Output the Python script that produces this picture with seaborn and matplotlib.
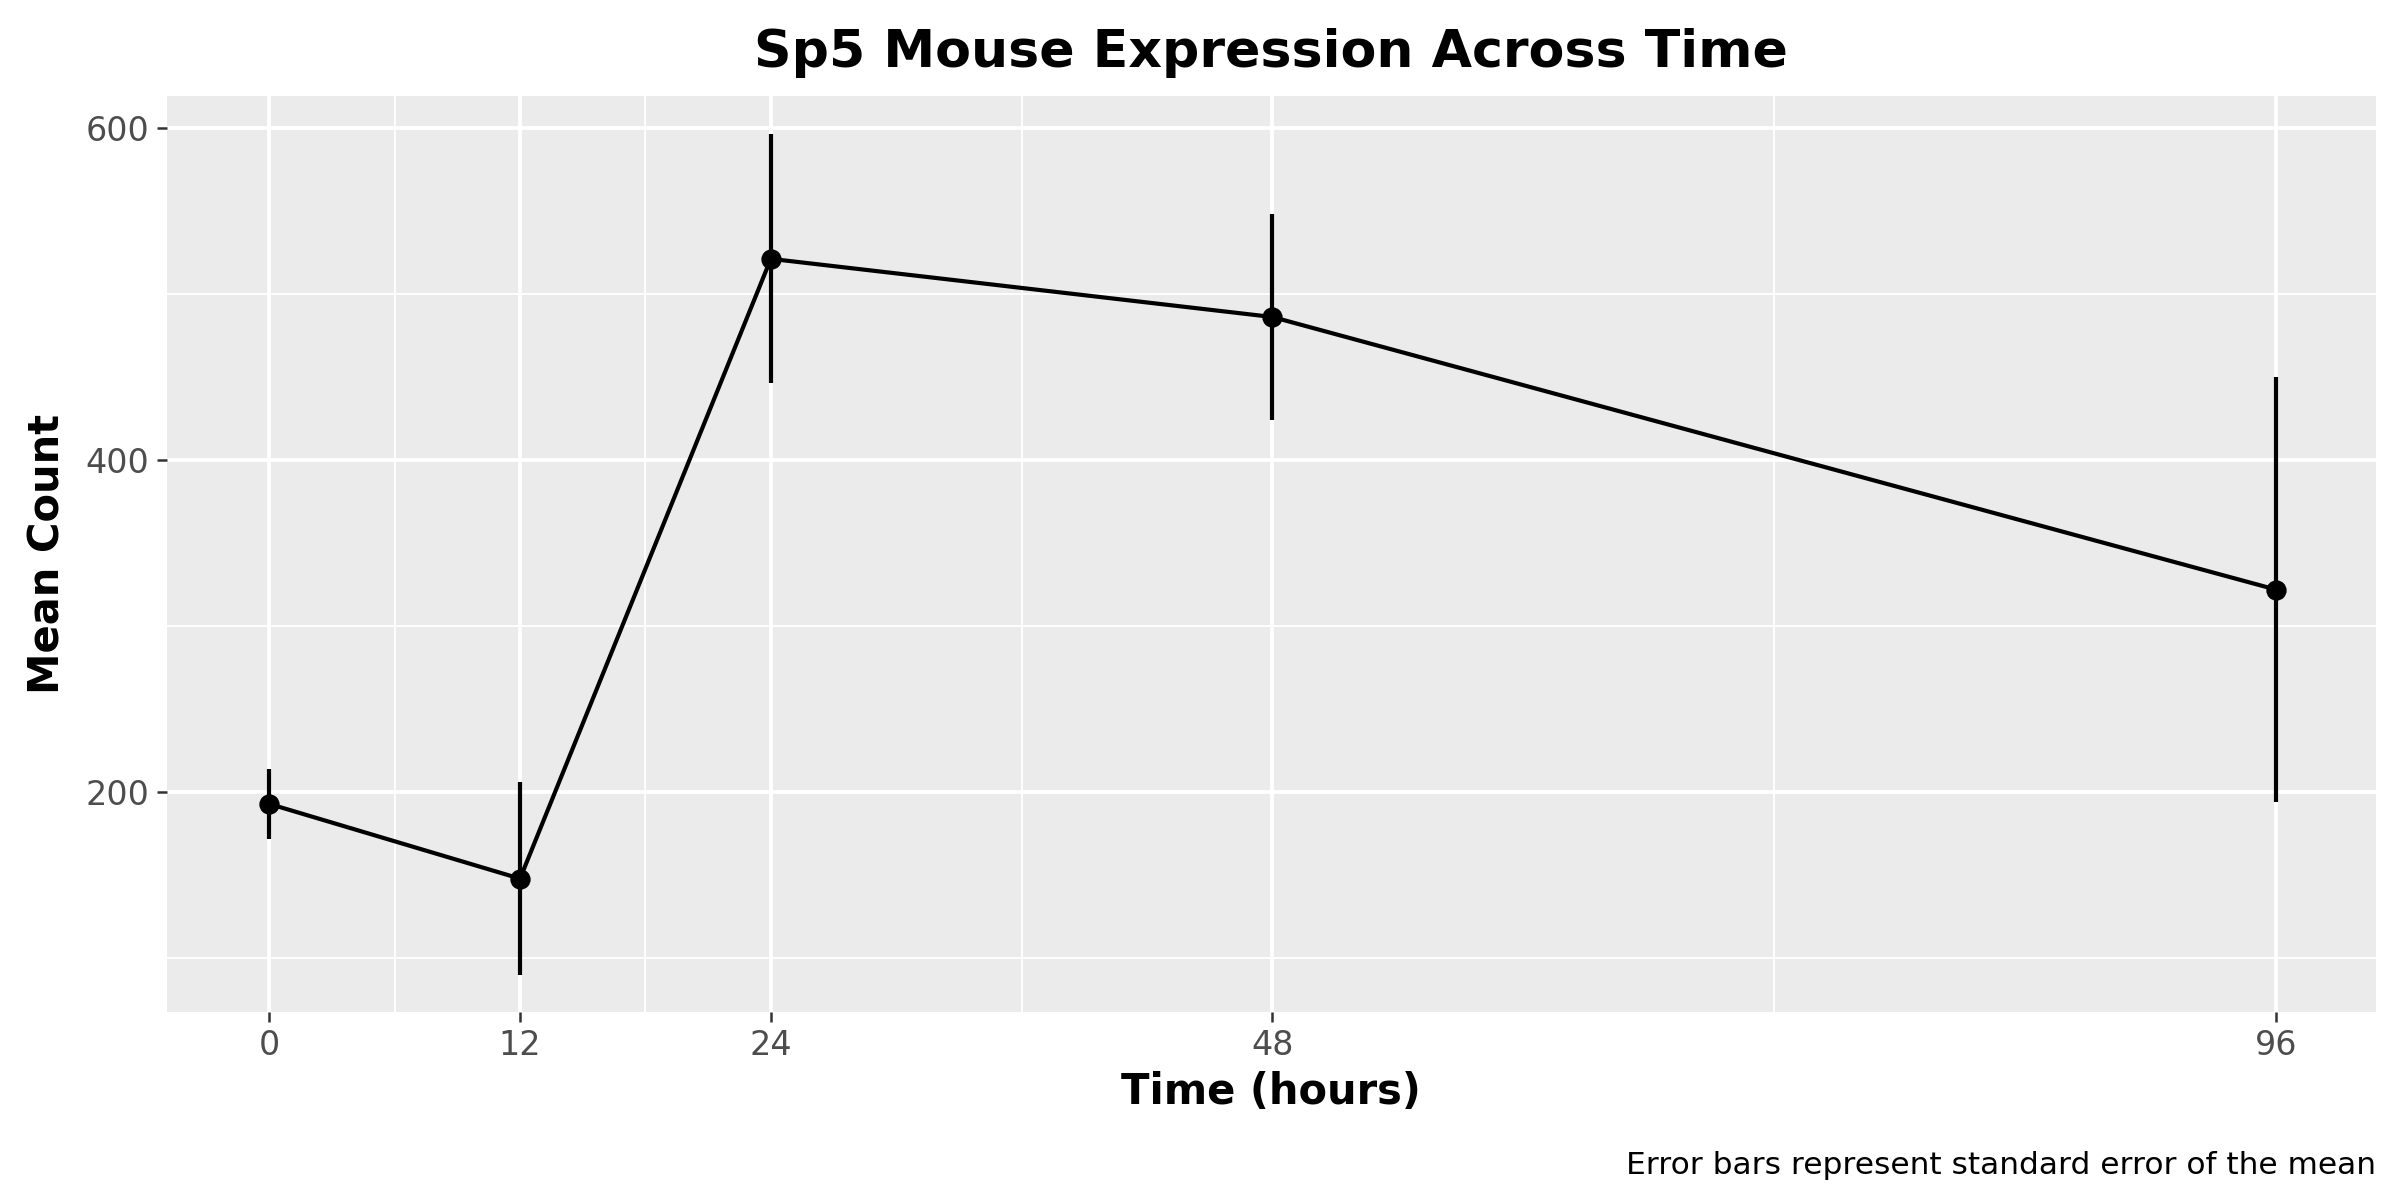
import matplotlib
matplotlib.use("Agg")
import matplotlib.pyplot as plt
import seaborn as sns
import pandas as pd
from matplotlib.ticker import FixedLocator

time_hours = [0, 12, 24, 48, 96]
mean_count = [193, 148, 521, 486, 322]
sem = [21, 58, 75, 62, 128]
x_ticks = [0, 12, 24, 48, 96]
y_ticks = [200, 400, 600]

sns.set_theme(style="darkgrid")
plt.rcParams['font.family'] = ['DejaVu Sans']
df = pd.DataFrame({"time": time_hours, "mean": mean_count, "sem": sem})

fig = plt.figure(figsize=(16, 8), dpi=150)
ax = fig.add_axes([0.0695, 0.157, 0.9205, 0.763])
ax.set_facecolor("#EBEBEB")
sns.lineplot(data=df, x="time", y="mean", color="black", lw=2, ax=ax, marker="o",
             markersize=9, markeredgecolor="black")
ax.errorbar(df["time"], df["mean"], yerr=df["sem"], fmt="none", ecolor="black", elinewidth=2)

ax.set_xlim(-4.9, 100.8)
ax.set_ylim(68, 619)
ax.xaxis.set_major_locator(FixedLocator(x_ticks))
ax.xaxis.set_minor_locator(FixedLocator([6, 18, 36, 72]))
ax.yaxis.set_major_locator(FixedLocator(y_ticks))
ax.yaxis.set_minor_locator(FixedLocator([100, 300, 500]))
ax.grid(which="major", color="white", lw=1.8)
ax.grid(which="minor", color="white", lw=0.9)
for s in ax.spines.values():
    s.set_visible(False)
ax.tick_params(axis="both", which="major", labelsize=16, labelcolor="#4D4D4D", length=5,
               color="#333333", width=1.2, left=True, bottom=True)
ax.tick_params(which="minor", length=0)
ax.set_xlabel("Time (hours)", fontsize=20, fontweight="bold", color="black", labelpad=4)
ax.set_ylabel("Mean Count", fontsize=20, fontweight="bold", color="black", labelpad=8)
ax.set_title("Sp5 Mouse Expression Across Time", fontsize=25, fontweight="bold", pad=14, color="black")
fig.text(0.99, 0.022, "Error bars represent standard error of the mean", ha="right", fontsize=15, color="black")
fig.savefig("out.png", dpi=150, facecolor="white")
